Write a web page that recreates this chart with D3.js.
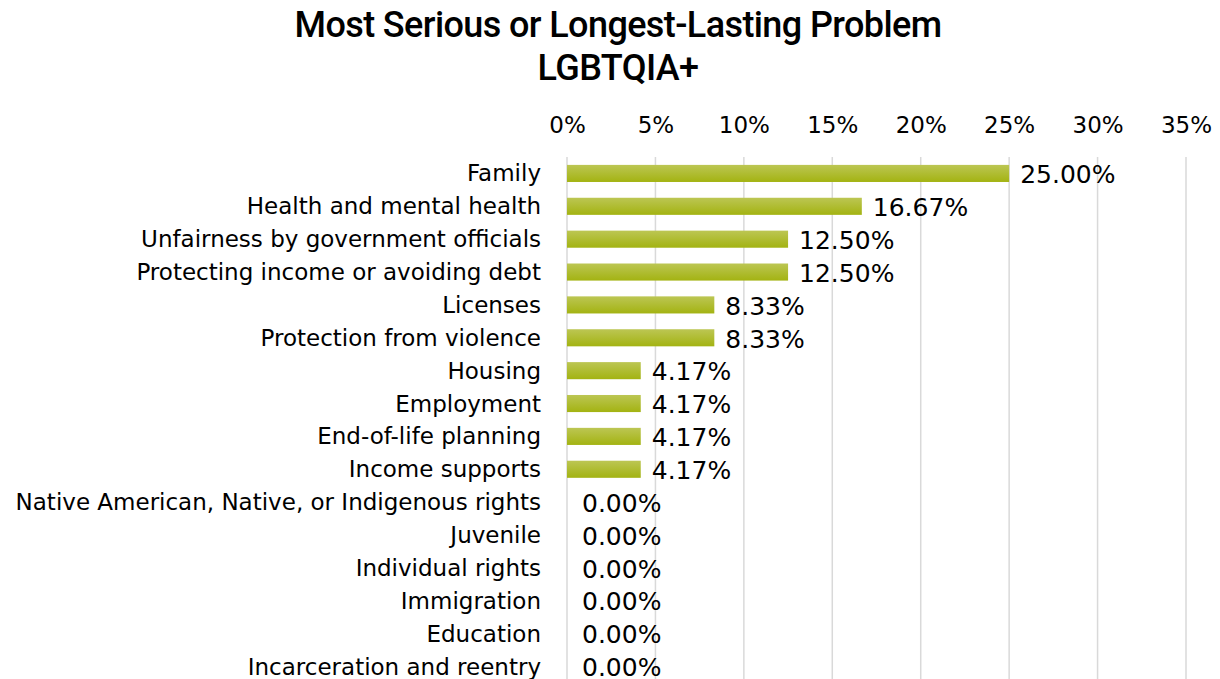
<!DOCTYPE html>
<html>
<head>
<meta charset="utf-8">
<script src="https://cdn.jsdelivr.net/npm/d3@7"></script>
<style>
  body { margin: 0; background: #fff; }
  svg text { fill: #000; }
</style>
</head>
<body>
<svg id="chart" width="1220" height="679"></svg>
<script>
var categories = [
  'Family', 'Health and mental health', 'Unfairness by government officials',
  'Protecting income or avoiding debt', 'Licenses', 'Protection from violence',
  'Housing', 'Employment', 'End-of-life planning', 'Income supports',
  'Native American, Native, or Indigenous rights', 'Juvenile', 'Individual rights',
  'Immigration', 'Education', 'Incarceration and reentry'
];
var values = [25.00, 16.67, 12.50, 12.50, 8.33, 8.33, 4.17, 4.17, 4.17, 4.17, 0, 0, 0, 0, 0, 0];
var ticks = [0, 5, 10, 15, 20, 25, 30, 35];

var svg = d3.select('#chart');
var plotLeft = 567, plotRight = 1186, plotTop = 157, step = 32.87;
var bodyFont = '"DejaVu Sans", Verdana, sans-serif';

var x = d3.scaleLinear().domain([0, 35]).range([plotLeft, plotRight]);
var y = d3.scaleBand().domain(categories)
  .range([plotTop, plotTop + step * categories.length])
  .paddingInner(0.48).paddingOuter(0.24);

var grad = svg.append('defs').append('linearGradient')
  .attr('id', 'barGrad').attr('x1', 0).attr('y1', 0).attr('x2', 0).attr('y2', 1);
grad.append('stop').attr('offset', '0%').attr('stop-color', '#bcc653');
grad.append('stop').attr('offset', '100%').attr('stop-color', '#a3b312');

// title
var titleFont = 'Roboto, "Liberation Sans", sans-serif';
svg.append('text').attr('x', 618).attr('y', 37).attr('text-anchor', 'middle')
  .style('font-family', titleFont).style('font-weight', 500)
  .style('letter-spacing', '-0.6px')
  .style('font-size', '36px').text('Most Serious or Longest-Lasting Problem');
svg.append('text').attr('x', 618).attr('y', 80).attr('text-anchor', 'middle')
  .style('font-family', titleFont).style('font-weight', 500)
  .style('letter-spacing', '-0.6px')
  .style('font-size', '36px').text('LGBTQIA+');

// grid
svg.append('g').selectAll('line').data(ticks).enter().append('line')
  .attr('x1', function(d) { return x(d); }).attr('x2', function(d) { return x(d); })
  .attr('y1', plotTop).attr('y2', 679)
  .attr('stroke', '#d9d9d9').attr('stroke-width', 1.5);

// top axis
var axis = d3.axisTop(x).tickValues(ticks).tickSize(0).tickPadding(0)
  .tickFormat(function(d) { return d + '%'; });
var ag = svg.append('g').attr('transform', 'translate(0,133)').call(axis);
ag.select('.domain').remove();
ag.selectAll('text').style('font-family', bodyFont)
  .style('font-size', '23px').attr('fill', '#000');

// bars
svg.append('g').selectAll('rect').data(values).enter().append('rect')
  .attr('x', x(0))
  .attr('y', function(d, i) { return y(categories[i]); })
  .attr('width', function(d) { return x(d) - x(0); })
  .attr('height', y.bandwidth())
  .attr('fill', 'url(#barGrad)');

// category labels
svg.append('g').selectAll('text').data(categories).enter().append('text')
  .attr('x', 541)
  .attr('y', function(d) { return y(d) + y.bandwidth() / 2; })
  .attr('dy', '0.35em').attr('text-anchor', 'end')
  .style('font-family', bodyFont)
  .style('font-size', '23px')
  .text(function(d) { return d; });

// value labels
svg.append('g').selectAll('text').data(values).enter().append('text')
  .attr('x', function(d) { return x(d) + (d === 0 ? 15 : 11); })
  .attr('y', function(d, i) { return y(categories[i]) + y.bandwidth() / 2 + 1; })
  .attr('dy', '0.35em')
  .style('font-family', bodyFont)
  .style('font-size', '25px')
  .text(function(d) { return d.toFixed(2) + '%'; });
</script>
</body>
</html>
